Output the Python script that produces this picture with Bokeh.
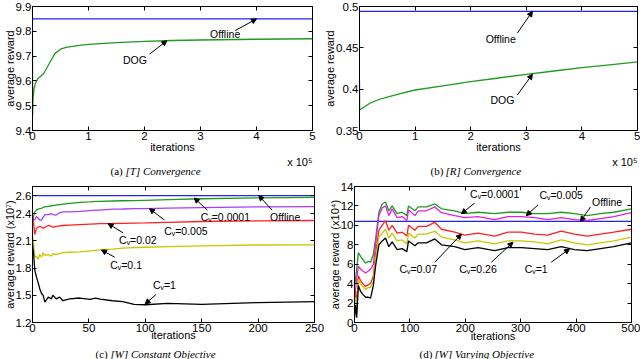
from bokeh.plotting import figure
from bokeh.layouts import column, row
from bokeh.models import Label, Arrow, NormalHead, FixedTicker, Range1d, LinearAxis
from bokeh.embed import file_html
from bokeh.resources import INLINE

# ---------------- data ----------------
# (a) [T] Convergence  (iterations in units of 1e5)
a_iter = [0, 0.002, 0.01, 0.03, 0.05, 0.1, 0.2, 0.3, 0.4, 0.5, 0.6, 0.8, 1.0, 1.5, 2.0, 2.5, 3.0, 4.0, 5.0]
a_dog = [9.77, 9.46, 9.53, 9.57, 9.59, 9.61, 9.63, 9.67, 9.71, 9.728, 9.735, 9.742, 9.747, 9.754, 9.759, 9.763, 9.765, 9.768, 9.770]
a_offline = 9.85
a_xticks = [0, 1, 2, 3, 4, 5]
a_xlabels = ["0", "1", "2", "3", "4", "5"]
a_yticks = [9.4, 9.5, 9.6, 9.7, 9.8, 9.9]
a_ylabels = ["9.4", "9.5", "9.6", "9.7", "9.8", "9.9"]

# (b) [R] Convergence
b_iter = [0, 0.002, 0.05, 0.1, 0.2, 0.35, 0.5, 0.75, 1.0, 1.5, 2.0, 2.5, 3.0, 3.5, 4.0, 4.5, 5.0]
b_dog = [0.41, 0.375, 0.377, 0.379, 0.3835, 0.3875, 0.3905, 0.395, 0.399, 0.404, 0.409, 0.4135, 0.418, 0.422, 0.426, 0.4295, 0.433]
b_offline = 0.494
b_xticks = [0, 1, 2, 3, 4, 5]
b_xlabels = ["0", "1", "2", "3", "4", "5"]
b_yticks = [0.35, 0.4, 0.45, 0.5]
b_ylabels = ["0.35", "0.4", "0.45", "0.5"]

# (c) [W] Constant Objective  (reward in units of 1e7)
c_iter = [0, 1, 2, 3.5, 5, 6.5, 8, 9.4, 11, 14, 16.7, 18, 21, 24, 27, 33, 42, 51, 56, 60, 71, 80, 90, 100, 120, 150, 200, 250]
c_cv00001 = [2.25, 2.38, 2.42, 2.44, 2.45, 2.455, 2.46, 2.47, 2.475, 2.48, 2.485, 2.49, 2.495, 2.50, 2.505, 2.515, 2.525, 2.53, 2.535, 2.537, 2.54, 2.543, 2.545, 2.548, 2.555, 2.565, 2.575, 2.58]
c_cv0005 = [2.35, 2.34, 2.33, 2.37, 2.35, 2.33, 2.33, 2.36, 2.39, 2.39, 2.40, 2.39, 2.385, 2.41, 2.42, 2.42, 2.425, 2.435, 2.44, 2.44, 2.45, 2.452, 2.455, 2.457, 2.462, 2.468, 2.475, 2.479]
c_cv002 = [2.37, 2.30, 2.17, 2.24, 2.25, 2.26, 2.25, 2.24, 2.25, 2.27, 2.26, 2.25, 2.26, 2.265, 2.27, 2.275, 2.28, 2.285, 2.288, 2.29, 2.292, 2.294, 2.296, 2.298, 2.305, 2.314, 2.32, 2.325]
c_cv01 = [2.17, 2.05, 1.925, 1.93, 1.90, 1.95, 1.92, 1.97, 1.94, 1.95, 1.93, 1.96, 1.95, 1.96, 1.97, 1.975, 1.98, 1.99, 1.995, 2.0, 2.01, 2.02, 2.025, 2.03, 2.037, 2.046, 2.055, 2.057]
c_cv1 = [2.07, 1.95, 1.78, 1.70, 1.64, 1.57, 1.52, 1.50, 1.425, 1.48, 1.46, 1.50, 1.46, 1.48, 1.44, 1.46, 1.47, 1.455, 1.47, 1.457, 1.44, 1.43, 1.40, 1.396, 1.41, 1.40, 1.42, 1.43]
c_offline = 2.6
c_xticks = [0, 50, 100, 150, 200, 250]
c_xlabels = ["0", "50", "100", "150", "200", "250"]
c_yticks = [1.2, 1.5, 1.8, 2.1, 2.4, 2.6]
c_ylabels = ["1.2", "1.5", "1.8", "2.1", "2.4", "2.6"]

# (d) [W] Varying Objective  (reward in units of 1e4)
d_iter = [0, 2, 4, 7, 11, 15, 20, 25, 29, 34, 38, 44, 50, 56, 62, 68, 77, 86, 94.5, 97.5, 109, 115, 130, 145, 157,
          181, 199, 223, 253, 277, 301, 325, 349, 373, 397, 420, 444, 468, 500]
d_cv00001 = [3.8, 4.5, 5.5, 7.2, 6.8, 6.5, 6.1, 6.3, 6.2, 7.0, 8.6, 11.35, 12.2, 12.4, 11.5, 12.0, 11.2, 11.35, 11.0, 12.0, 11.5, 11.9, 11.9, 12.2, 11.7,
             11.5, 11.2, 11.35, 11.2, 11.35, 11.35, 11.2, 11.2, 11.35, 11.2, 11.0, 11.2, 11.35, 11.7]
d_cv0005 = [3.0, 3.5, 4.5, 5.8, 5.5, 5.3, 5.1, 5.3, 5.5, 6.0, 8.0, 11.0, 11.8, 12.0, 11.0, 11.7, 10.8, 10.9, 10.5, 11.6, 11.0, 11.5, 11.5, 11.9, 11.3,
            11.0, 10.8, 10.9, 10.6, 10.9, 10.9, 10.8, 10.6, 10.8, 10.6, 10.5, 10.7, 10.9, 11.3]
d_cv007 = [2.0, 3.3, 1.5, 4.8, 4.3, 4.0, 3.7, 3.9, 4.0, 4.8, 7.0, 9.5, 10.0, 10.5, 9.5, 10.0, 9.2, 9.3, 8.9, 10.0, 9.5, 9.9, 9.9, 10.3, 9.6,
           9.3, 9.0, 9.2, 8.9, 9.3, 9.3, 9.1, 9.0, 9.4, 9.1, 8.9, 9.1, 9.3, 9.6]
d_cv026 = [1.5, 2.6, 1.0, 4.4, 4.0, 3.7, 3.4, 3.6, 3.6, 4.3, 6.5, 8.8, 9.2, 9.6, 8.7, 9.2, 8.4, 8.5, 8.1, 9.2, 8.7, 9.1, 9.1, 9.4, 8.8,
           8.5, 8.2, 8.4, 8.1, 8.4, 8.4, 8.3, 8.1, 8.5, 8.2, 8.0, 8.2, 8.4, 8.8]
d_cv1 = [0.5, 1.8, 0.5, 3.8, 3.2, 2.9, 2.6, 2.6, 2.5, 3.8, 5.8, 8.0, 8.4, 8.7, 7.8, 8.3, 7.5, 7.6, 7.3, 8.4, 7.9, 8.2, 8.2, 8.6, 8.0,
         7.8, 7.5, 7.7, 7.4, 7.7, 7.7, 7.6, 7.5, 7.8, 7.5, 7.4, 7.6, 7.8, 8.2]
d_offline = 10.4
d_xticks = [0, 100, 200, 300, 400, 500]
d_xlabels = ["0", "100", "200", "300", "400", "500"]
d_yticks = [0, 2, 4, 6, 8, 10, 12, 14]
d_ylabels = ["0", "2", "4", "6", "8", "10", "12", "14"]

# ---------------- styling ----------------
FONT = "Liberation Sans"
SERIF = "Liberation Serif"
BLUE = "#2222ff"
GREEN = "#1f9a1f"
PURPLE = "#a83cff"
MAGENTA = "#e020e0"
RED = "#ff2020"
YELLOW = "#c8c800"
BLACK = "#000000"
LW = 1.3
TICK_FS = "11.5px"
LABEL_FS = "11px"
NOTE_FS = "10.5px"


def make_fig(width, height, xr, yr, xt, xl, yt, yl, ylab, borders, xlab_standoff=-2):
    p = figure(width=width, height=height, x_range=Range1d(*xr), y_range=Range1d(*yr),
               output_backend="svg", toolbar_location=None,
               min_border_left=borders[0], min_border_right=borders[1],
               min_border_top=borders[2], min_border_bottom=borders[3])
    p.xgrid.visible = False
    p.ygrid.visible = False
    p.outline_line_color = "black"
    p.outline_line_alpha = 1.0
    p.outline_line_width = 1
    p.xaxis.ticker = FixedTicker(ticks=xt)
    p.xaxis.major_label_overrides = {t: l for t, l in zip(xt, xl)}
    p.yaxis.ticker = FixedTicker(ticks=yt)
    p.yaxis.major_label_overrides = {t: l for t, l in zip(yt, yl)}
    p.xaxis.axis_label = "iterations"
    p.yaxis.axis_label = ylab
    for ax in (p.xaxis[0], p.yaxis[0]):
        ax.major_tick_in = 4
        ax.major_tick_out = 0
        ax.minor_tick_line_color = None
        ax.axis_line_color = "black"
        ax.major_tick_line_color = "black"
        ax.major_label_text_font = FONT
        ax.major_label_text_font_size = TICK_FS
        ax.major_label_text_color = "black"
        ax.axis_label_text_font = FONT
        ax.axis_label_text_font_size = LABEL_FS
        ax.axis_label_text_font_style = "normal"
        ax.axis_label_text_color = "black"
        ax.major_label_standoff = 1
    p.yaxis[0].axis_label_standoff = -3
    p.xaxis[0].axis_label_standoff = xlab_standoff
    # mirrored inward ticks on the top and right edges (box style), no labels
    for loc, ticks in (("above", xt), ("right", yt)):
        ax = LinearAxis(ticker=FixedTicker(ticks=ticks), major_label_text_font_size="1px",
                        major_label_text_color=None,
                        major_tick_in=4, major_tick_out=0, major_label_standoff=0,
                        minor_tick_line_color=None, axis_line_color=None,
                        major_tick_line_color="black")
        p.add_layout(ax, loc)
    return p


def note(p, text, x, y, x0, y0, x1, y1):
    p.add_layout(Label(x=x, y=y, text=text, text_font=FONT, text_font_size=NOTE_FS,
                       text_align="center", text_baseline="middle", text_color="black"))
    p.add_layout(Arrow(end=NormalHead(size=5, fill_color="black", line_color="black", line_width=1),
                       x_start=x0, y_start=y0, x_end=x1, y_end=y1,
                       line_color="black", line_width=1))


def strip(width, height):
    s = figure(width=width, height=height, x_range=Range1d(0, width), y_range=Range1d(0, height),
               output_backend="svg", toolbar_location=None, x_axis_type=None, y_axis_type=None,
               min_border=0)
    s.grid.visible = False
    s.outline_line_color = None
    return s


def caption(s, tag, text, x, y):
    s.add_layout(Label(x=x, y=y, text=tag, text_font=SERIF, text_font_size="11px",
                       text_align="left", text_baseline="middle", text_color="black"))
    s.add_layout(Label(x=x + 15, y=y, text=text, text_font=SERIF, text_font_size="11px",
                       text_font_style="italic", text_align="left", text_baseline="middle",
                       text_color="black"))


def scale_note(s, xr, y):
    s.add_layout(Label(x=xr, y=y, text="x 10\u2075", text_font=FONT, text_font_size="11px",
                       text_align="right", text_baseline="middle", text_color="black"))


# (a)
pa = make_fig(321, 155, (0, 5), (9.4, 9.9), a_xticks, a_xlabels, a_yticks, a_ylabels,
              "average reward", (27, 9, 6, 24))
pa.line([a_iter[0], a_iter[-1]], [a_offline, a_offline], line_color=BLUE, line_width=LW)
pa.line(a_iter, a_dog, line_color=GREEN, line_width=LW)
note(pa, "Offline", 3.44, 9.788, 3.62, 9.803, 4.0, a_offline)
note(pa, "DOG", 1.83, 9.684, 2.09, 9.708, 2.4, 9.762)

# (b)
pb = make_fig(319, 155, (0, 5), (0.35, 0.5), b_xticks, b_xlabels, b_yticks, b_ylabels,
              "average reward", (36, 3, 6, 24))
pb.line([b_iter[0], b_iter[-1]], [b_offline, b_offline], line_color=BLUE, line_width=LW)
pb.line(b_iter, b_dog, line_color=GREEN, line_width=LW)
note(pb, "Offline", 2.54, 0.4605, 2.84, 0.468, 3.11, b_offline)
note(pb, "DOG", 2.57, 0.3875, 2.84, 0.393, 3.11, 0.418)

s1 = strip(640, 23)
scale_note(s1, 312, 17)
scale_note(s1, 637, 17)
caption(s1, "(a)", "[T] Convergence", 110, 8)
caption(s1, "(b)", "[R] Convergence", 430, 8)

# (c)
pc = make_fig(325, 167, (0, 250), (1.2, 2.7), c_xticks, c_xlabels, c_yticks, c_ylabels,
              "average reward (x10\u2077)", (30, 11, 5, 22), xlab_standoff=-6)
pc.line([c_iter[0], c_iter[-1]], [c_offline, c_offline], line_color=BLUE, line_width=LW)
pc.line(c_iter, c_cv00001, line_color=GREEN, line_width=LW)
pc.line(c_iter, c_cv0005, line_color=PURPLE, line_width=LW)
pc.line(c_iter, c_cv002, line_color=RED, line_width=LW)
pc.line(c_iter, c_cv01, line_color=YELLOW, line_width=LW)
pc.line(c_iter, c_cv1, line_color=BLACK, line_width=LW)
note(pc, "C\u1d65=0.0001", 171, 2.368, 155, 2.44, 143.4, 2.573)
note(pc, "Offline", 224, 2.368, 212.4, 2.44, 200.6, c_offline)
note(pc, "C\u1d65=0.005", 136, 2.207, 117, 2.33, 103.7, 2.455)
note(pc, "C\u1d65=0.02", 93.4, 2.107, 80.2, 2.19, 67, 2.29)
note(pc, "C\u1d65=0.1", 83, 1.832, 72.9, 1.92, 61.1, 2.0)
note(pc, "C\u1d65=1", 117, 1.618, 109.6, 1.51, 99.9, 1.404)

# (d)
pd = make_fig(315, 167, (0, 500), (0, 14), d_xticks, d_xlabels, d_yticks, d_ylabels,
              "average reward (x10\u2074)", (27, 9, 8, 23), xlab_standoff=-5)
pd.line([d_iter[0], d_iter[-1]], [d_offline, d_offline], line_color=BLUE, line_width=LW)
pd.line(d_iter, d_cv00001, line_color=GREEN, line_width=LW)
pd.line(d_iter, d_cv0005, line_color=MAGENTA, line_width=LW)
pd.line(d_iter, d_cv007, line_color=RED, line_width=LW)
pd.line(d_iter, d_cv026, line_color=YELLOW, line_width=LW)
pd.line(d_iter, d_cv1, line_color=BLACK, line_width=LW)
note(pd, "C\u1d65=0.0001", 253, 13.2, 217, 12.3, 193, 11.2)
note(pd, "C\u1d65=0.005", 373, 13.1, 331, 12.1, 310, 11.0)
note(pd, "Offline", 456, 12.4, 426, 11.9, 408, d_offline)
note(pd, "C\u1d65=0.07", 115, 5.5, 145, 6.2, 193, 9.1)
note(pd, "C\u1d65=0.26", 223, 5.5, 247, 6.2, 286, 8.26)
note(pd, "C\u1d65=1", 328, 5.5, 355, 6.2, 388, 7.57)

s2 = strip(640, 14)
caption(s2, "(c)", "[W] Constant Objective", 95, 6)
caption(s2, "(d)", "[W] Varying Objective", 419, 6)

layout = column(row(pa, pb), s1, row(pc, pd), s2)
open("out.html", "w").write(file_html(layout, INLINE))
